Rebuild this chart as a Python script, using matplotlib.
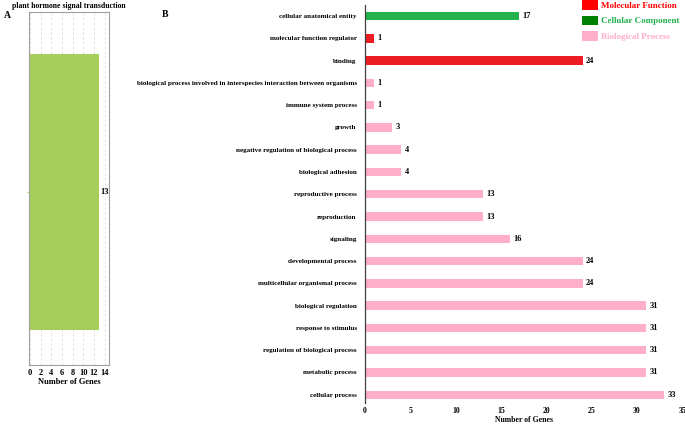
import numpy as np
import matplotlib
matplotlib.use("Agg")
import matplotlib.pyplot as plt
from matplotlib.patches import Patch

# panel A data
pathway = ["plant hormone signal transduction"]
pathway_counts = [13]

# panel B data, top to bottom
go_terms = [
    "cellular anatomical entity",
    "molecular function regulator",
    "binding",
    "biological process involved in interspecies interaction between organisms",
    "immune system process",
    "growth",
    "negative regulation of biological process",
    "biological adhesion",
    "reproductive process",
    "reproduction",
    "signaling",
    "developmental process",
    "multicellular organismal process",
    "biological regulation",
    "response to stimulus",
    "regulation of biological process",
    "metabolic process",
    "cellular process",
]
go_counts = [17, 1, 24, 1, 1, 3, 4, 4, 13, 13, 16, 24, 24, 31, 31, 31, 31, 33]
go_class = ["CC", "MF", "MF"] + ["BP"] * 15

bar_colors = {"MF": "#ed1c24", "CC": "#22b14c", "BP": "#ffaec9"}
legend_names = ["Molecular Function", "Cellular Component", "Biological Process"]
legend_boxes = ["#ff0000", "#008000", "#ffaec9"]
legend_text = ["#ff0000", "#22b14c", "#ffaec9"]

plt.rcParams["font.family"] = ["Liberation Serif", "DejaVu Serif"]
plt.rcParams["font.weight"] = "bold"

fig = plt.figure(figsize=(6.85, 4.24), dpi=100)

# ---- panel A ----
axa = fig.add_axes([0.042, 0.140, 0.117, 0.831])
axa.barh([0], pathway_counts, height=0.8, color="#a6ce5b", zorder=2)
axa.set_xlim(-0.26, 14.8)
axa.set_ylim(-0.5, 0.52)
axa.set_xticks(np.arange(0, 15, 2))
axa.set_yticks([0])
axa.set_yticklabels([""])
axa.tick_params(axis="y", length=2, color="#c8e0a0")
axa.tick_params(axis="x", length=0, labelsize=6, pad=3)
axa.grid(axis="x", color="#d8d8d8", linestyle=(0, (4, 3)), linewidth=0.5, zorder=0)
for s in axa.spines.values():
    s.set_color("#a0a0a0")
    s.set_linewidth(0.8)
for v, c in zip([0], pathway_counts):
    axa.text(c + 0.2, v, str(c), va="center", ha="left", fontsize=6, fontweight="bold")
axa.set_xlabel("Number of Genes", fontsize=6, fontweight="bold", labelpad=1)
axa.set_title(pathway[0], fontsize=5.6, fontweight="bold", pad=3)
fig.text(0.006, 0.963, "A", fontsize=7, fontweight="bold", va="center")

# ---- panel B ----
axb = fig.add_axes([0.533, 0.050, 0.463, 0.938])
ypos = np.arange(len(go_terms))[::-1]
colors = [bar_colors[c] for c in go_class]
axb.barh(ypos, go_counts, height=0.38, color=colors)
axb.set_xlim(0, 35)
axb.set_ylim(-0.36, len(go_terms) - 1 + 0.49)
axb.set_yticks(ypos)
axb.set_yticklabels(go_terms)
axb.set_xticks(np.arange(0, 36, 5))
axb.tick_params(axis="y", length=0, labelsize=5.1, pad=6)
axb.tick_params(axis="x", length=0, labelsize=5.6, pad=3)
for side in ["top", "right", "bottom"]:
    axb.spines[side].set_visible(False)
axb.spines["left"].set_color("#404040")
axb.spines["left"].set_linewidth(0.9)
for y, c in zip(ypos, go_counts):
    axb.text(c + 0.35, y, str(c), va="center", ha="left", fontsize=6, fontweight="bold")
axb.set_xlabel("Number of Genes", fontsize=5.6, fontweight="bold", labelpad=0.5)
fig.text(0.236, 0.965, "B", fontsize=7, fontweight="bold", va="center")

handles = [Patch(facecolor=c, edgecolor="none") for c in legend_boxes]
fig.legend(handles, legend_names, loc="upper left", bbox_to_anchor=(582 / 685, 1.0),
           frameon=False, labelcolor=legend_text,
           handlelength=1.75, handleheight=1.3, handletextpad=0.4, labelspacing=0.62,
           borderaxespad=0, borderpad=0,
           prop={"weight": "bold", "size": 6.5})

fig.savefig("out.png", dpi=100)
